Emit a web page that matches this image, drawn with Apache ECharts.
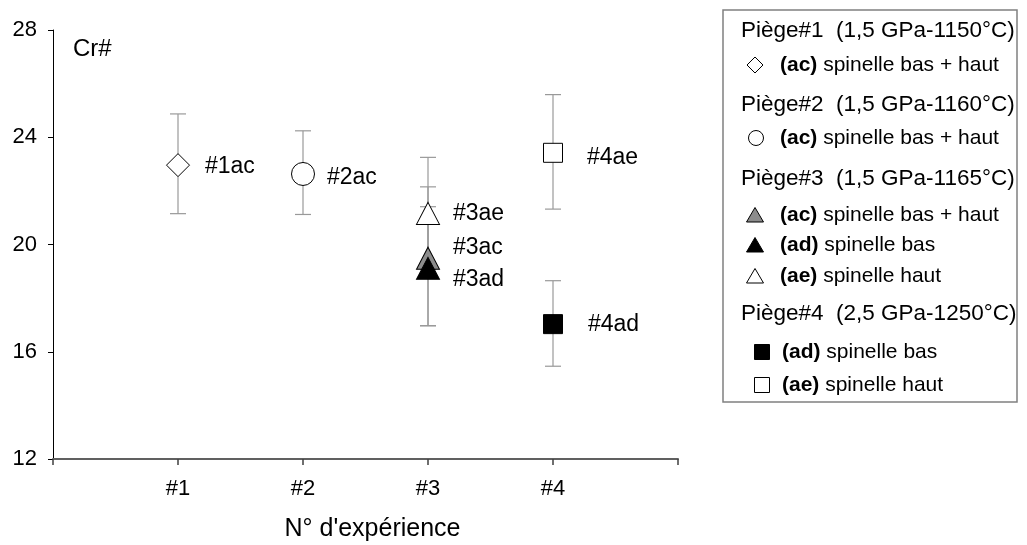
<!DOCTYPE html>
<html>
<head>
<meta charset="utf-8">
<script src="https://cdn.jsdelivr.net/npm/echarts@6/dist/echarts.min.js"></script>
<style>
html,body{margin:0;padding:0;background:#fff;}
#chart{width:1027px;height:545px;}
</style>
</head>
<body>
<div id="chart"></div>
<script>
// ---- data ----
const categories = ['#1', '#2', '#3', '#4'];
const yTicks = [12, 16, 20, 24, 28];
const pointNames = ['#1ac', '#2ac', '#3ac', '#3ad', '#3ae', '#4ad', '#4ae'];
const expIndex   = [1, 2, 3, 3, 3, 4, 4];
const crValues   = [22.96, 22.63, 19.49, 19.11, 21.16, 17.03, 23.42];
const errLow     = [21.15, 21.12, 16.97, 16.97, 19.07, 15.46, 21.32];
const errHigh    = [24.87, 24.24, 22.15, 21.41, 23.25, 18.65, 25.59];
const legendHeaders = ['Piège#1  (1,5 GPa-1150°C)', 'Piège#2  (1,5 GPa-1160°C)', 'Piège#3  (1,5 GPa-1165°C)', 'Piège#4  (2,5 GPa-1250°C)'];
const legendCodes = ['(ac)', '(ac)', '(ac)', '(ad)', '(ae)', '(ad)', '(ae)'];
const legendDescs = ['spinelle bas + haut', 'spinelle bas + haut', 'spinelle bas + haut', 'spinelle bas', 'spinelle haut', 'spinelle bas', 'spinelle haut'];
const yName = 'Cr#';
const xName = "N° d'expérience";

// ---- styles ----
const FONT = '"Liberation Sans", Arial, sans-serif';
const styles = [
  {symbol: 'diamond', size: 23, fill: '#ffffff', label: [27, 2]},
  {symbol: 'circle', size: 23, fill: '#ffffff', label: [24, 4]},
  {symbol: 'triangle', size: [23, 22], fill: '#8c8c8c', label: [25, -11]},
  {symbol: 'triangle', size: [23, 22], fill: '#000000', label: [25, 11]},
  {symbol: 'triangle', size: [23, 22], fill: '#ffffff', label: [25, 0]},
  {symbol: 'rect', size: 19, fill: '#000000', label: [35, 1]},
  {symbol: 'rect', size: 19, fill: '#ffffff', label: [34, 5]}
];

const chart = echarts.init(document.getElementById('chart'), null, {renderer: 'canvas'});

const series = [];
// error bars
series.push({
  type: 'custom',
  name: 'err',
  z: 1,
  silent: true,
  data: pointNames.map((n, i) => [expIndex[i], errLow[i], errHigh[i]]),
  renderItem: function (params, api) {
    const lo = api.coord([api.value(0), api.value(1)]);
    const hi = api.coord([api.value(0), api.value(2)]);
    const hw = 8;
    const st = {stroke: '#999999', lineWidth: 1.2};
    return {
      type: 'group',
      children: [
        {type: 'line', shape: {x1: lo[0], y1: lo[1], x2: hi[0], y2: hi[1]}, style: st},
        {type: 'line', shape: {x1: lo[0] - hw, y1: lo[1], x2: lo[0] + hw, y2: lo[1]}, style: st},
        {type: 'line', shape: {x1: hi[0] - hw, y1: hi[1], x2: hi[0] + hw, y2: hi[1]}, style: st}
      ]
    };
  }
});
pointNames.forEach((n, i) => {
  const s = styles[i];
  series.push({
    type: 'scatter',
    name: n,
    z: 3,
    symbol: s.symbol,
    symbolSize: s.size,
    itemStyle: {color: s.fill, borderColor: '#000000', borderWidth: 1, opacity: 1},
    label: {
      show: true,
      position: 'inside',
      align: 'left',
      verticalAlign: 'middle',
      offset: s.label,
      formatter: n,
      color: '#000000',
      fontSize: 23,
      fontFamily: FONT
    },
    emphasis: {disabled: true},
    data: [[expIndex[i], crValues[i]]]
  });
});

// legend graphic
const graphics = [];
graphics.push({type: 'rect', shape: {x: 723, y: 10, width: 294, height: 392}, style: {fill: '#ffffff', stroke: '#808080', lineWidth: 1.5}, z: 0});
const headerY = [31, 105, 179, 314];
legendHeaders.forEach((h, i) => {
  graphics.push({type: 'text', x: 741, y: headerY[i], style: {text: h, font: '22.5px ' + FONT, fill: '#000', verticalAlign: 'middle'}, z: 5});
});
const itemY = [65, 138, 215, 245, 276, 352, 385];
const itemSymX = [755, 756, 755, 755, 755, 762, 762];
const itemTextX = [780, 780, 780, 780, 780, 782, 782];
legendCodes.forEach((c, i) => {
  const cx = itemSymX[i], cy = itemY[i];
  const s = styles[i];
  const st = {fill: s.fill, stroke: '#000', lineWidth: 1};
  let shape;
  if (s.symbol === 'diamond') {
    shape = {type: 'polygon', shape: {points: [[cx, cy - 8], [cx + 8, cy], [cx, cy + 8], [cx - 8, cy]]}, style: st};
  } else if (s.symbol === 'circle') {
    shape = {type: 'circle', shape: {cx: cx, cy: cy, r: 7.5}, style: st};
  } else if (s.symbol === 'triangle') {
    shape = {type: 'polygon', shape: {points: [[cx, cy - 7.5], [cx + 8.5, cy + 7], [cx - 8.5, cy + 7]]}, style: st};
  } else {
    shape = {type: 'rect', shape: {x: cx - 7.5, y: cy - 7.5, width: 15, height: 15}, style: st};
  }
  shape.z = 5;
  graphics.push(shape);
  graphics.push({
    type: 'text', x: itemTextX[i], y: cy, z: 5,
    style: {
      text: '{b|' + c + '} ' + legendDescs[i],
      font: '21px ' + FONT,
      fill: '#000',
      verticalAlign: 'middle',
      rich: {b: {fontWeight: 'bold', fontSize: 21, fontFamily: FONT}}
    }
  });
});
graphics.push({type: 'text', x: 73, y: 49, z: 5, style: {text: yName, font: '24px ' + FONT, fill: '#000', verticalAlign: 'middle'}});

const option = {
  backgroundColor: '#ffffff',
  animation: false,
  textStyle: {fontFamily: FONT},
  grid: {left: 53, right: 349, top: 30, bottom: 86, containLabel: false, outerBoundsMode: 'none'},
  xAxis: {
    type: 'value', min: 0, max: 5, interval: 1,
    name: xName, nameLocation: 'middle', nameGap: 58,
    nameTextStyle: {fontSize: 25, color: '#000', fontFamily: FONT, padding: [0, 0, 0, 14]},
    axisLine: {show: true, lineStyle: {color: '#606060', width: 2}},
    axisTick: {show: true, length: 6, lineStyle: {color: '#404040', width: 1.5}},
    axisLabel: {
      margin: 19, fontSize: 22, color: '#000', fontFamily: FONT,
      formatter: function (v) { return (v >= 1 && v <= categories.length) ? categories[v - 1] : ''; }
    },
    splitLine: {show: false}
  },
  yAxis: {
    type: 'value', min: yTicks[0], max: yTicks[yTicks.length - 1], interval: 4,
    axisLine: {show: true, lineStyle: {color: '#000', width: 1}},
    axisTick: {show: true, length: 5, lineStyle: {color: '#000'}},
    axisLabel: {margin: 16, fontSize: 22, color: '#000', fontFamily: FONT},
    splitLine: {show: false}
  },
  graphic: graphics,
  series: series
};
chart.setOption(option);
</script>
</body>
</html>
